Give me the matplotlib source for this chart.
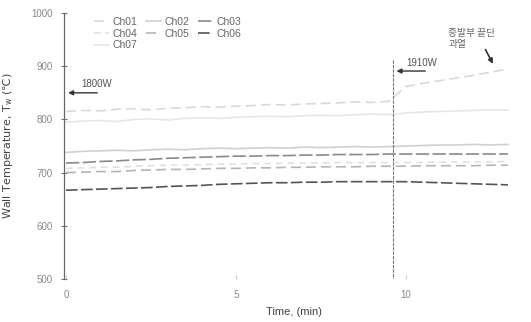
import matplotlib
matplotlib.use("Agg")
import matplotlib.pyplot as plt

plt.rcParams['font.family'] = ['Liberation Sans', 'DejaVu Sans', 'Noto Sans CJK KR']

time = [0, 0.5, 1, 1.5, 2, 2.5, 3, 3.5, 4, 4.5, 5, 5.5, 6, 6.5, 7, 7.5, 8, 8.5, 9, 9.5,
        10, 10.5, 11, 11.5, 12, 12.5, 13]
ch01 = [815, 817, 816, 819, 820, 818, 821, 822, 824, 823, 825, 826, 828, 827, 829, 830, 831,
        833, 832, 834, 862, 868, 873, 878, 883, 889, 895]
ch02 = [738, 740, 741, 742, 741, 743, 744, 743, 745, 746, 745, 746, 747, 746, 748, 747, 748,
        749, 748, 749, 750, 751, 752, 752, 753, 752, 753]
ch03 = [718, 719, 721, 722, 724, 725, 727, 728, 729, 730, 731, 731, 732, 732, 733, 733, 734,
        734, 734, 735, 735, 735, 735, 735, 735, 735, 735]
ch04 = [708, 709, 710, 710, 712, 713, 714, 714, 715, 716, 716, 717, 717, 718, 718, 718, 719,
        719, 719, 719, 719, 719, 720, 720, 720, 720, 721]
ch05 = [700, 701, 702, 702, 704, 705, 706, 706, 707, 708, 708, 709, 709, 710, 710, 711, 711,
        711, 712, 712, 712, 713, 713, 713, 713, 714, 714]
ch06 = [667, 668, 669, 670, 671, 672, 674, 675, 676, 678, 679, 680, 681, 681, 682, 682, 683,
        683, 683, 683, 683, 682, 681, 680, 679, 678, 677]
ch07 = [795, 797, 798, 796, 800, 801, 799, 802, 803, 802, 804, 805, 806, 805, 807, 808, 807,
        809, 810, 809, 812, 814, 815, 816, 817, 818, 818]

series = [("Ch01", ch01, '#d9d9d9', (0, (6, 3))),
          ("Ch02", ch02, '#d0d0d0', '-'),
          ("Ch03", ch03, '#8a8a8a', (0, (8, 2))),
          ("Ch04", ch04, '#e0e0e0', (0, (4, 3))),
          ("Ch05", ch05, '#b5b5b5', (0, (6, 3))),
          ("Ch06", ch06, '#555555', (0, (7, 2))),
          ("Ch07", ch07, '#e6e6e6', '-')]

fig = plt.figure(figsize=(5.31, 3.22), dpi=100)
ax = fig.add_axes([0.1205, 0.1335, 0.868, 0.826])

handles = {}
for name, vals, col, ls in series:
    handles[name], = ax.plot(time, vals, color=col, linestyle=ls, linewidth=1.2, label=name)

ax.set_xlim(-0.06, 13.5)
ax.set_ylim(500, 1000)
ax.set_xticks([0, 5, 10])
ax.set_yticks([500, 600, 700, 800, 900, 1000])
for s in ['top', 'right', 'bottom']:
    ax.spines[s].set_visible(False)
ax.spines['left'].set_color('#666666')
ax.spines['left'].set_linewidth(0.9)
ax.tick_params(axis='y', direction='inout', length=4, color='#777777', labelsize=7,
               labelcolor='#888888', pad=6)
ax.tick_params(axis='x', direction='in', length=3, color='#cccccc', labelsize=7,
               labelcolor='#888888', pad=8)

ax.set_xlabel("Time, (min)", fontsize=8, color='#444444', labelpad=5)
ax.set_ylabel("Wall Temperature, T$_\\mathregular{w}$ (\u2103)", fontsize=8, color='#444444',
              labelpad=12, family=['DejaVu Sans'])

# power change line
ax.plot([9.62, 9.62], [912, 500], color='#777777', linewidth=0.8, linestyle=(0, (3, 1)))

ax.annotate("", xy=(-0.02, 850), xytext=(1.0, 850),
            arrowprops=dict(arrowstyle='-|>', color='#333333', lw=1.0, mutation_scale=7))
ax.text(0.45, 858, "1800W", fontsize=7, color='#555555', va='bottom')

ax.annotate("", xy=(9.64, 891), xytext=(10.65, 891),
            arrowprops=dict(arrowstyle='-|>', color='#333333', lw=1.0, mutation_scale=7))
ax.text(10.0, 896, "1910W", fontsize=7, color='#555555', va='bottom')

ax.text(11.25, 932, "증발부 끝단\n과열", fontsize=7, color='#666666', va='bottom',
        family=['Noto Sans CJK KR', 'DejaVu Sans'], linespacing=1.2)
ax.annotate("", xy=(12.6, 900), xytext=(12.3, 936),
            arrowprops=dict(arrowstyle='-|>', color='#333333', lw=1.2, mutation_scale=7))

order = ["Ch01", "Ch04", "Ch07", "Ch02", "Ch05", "Ch03", "Ch06"]
leg = ax.legend([handles[n] for n in order], order, ncol=3, loc='upper left',
                bbox_to_anchor=(0.045, 1.02), frameon=False,
                fontsize=7.5, handlelength=1.4, handletextpad=0.4, columnspacing=0.8,
                labelspacing=0.15)
for t in leg.get_texts():
    t.set_color('#666666')

fig.savefig("out.png", dpi=100)
